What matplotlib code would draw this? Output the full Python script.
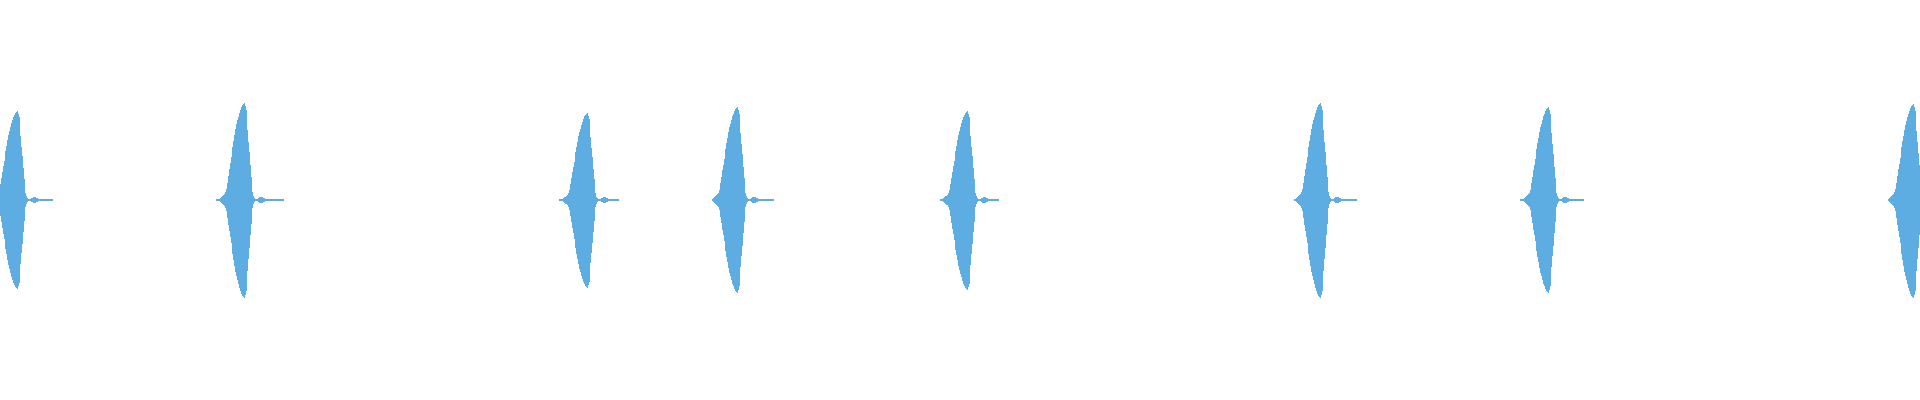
import numpy as np
import matplotlib
matplotlib.use("Agg")
import matplotlib.pyplot as plt

# waveform overview: one bar per pixel column, symmetric around zero
n_columns = 1920
wave_color = "#5dade2"

# burst positions (column of the loudest point) and extent around it
burst_peaks = [17, 244, 587, 737, 967, 1320, 1548, 1913]
burst_start = [-28, -28, -28, -25, -27, -26, -28, -25]
burst_end = [35, 39, 31, 36, 31, 36, 35, 7]
peak_top = [0.445, 0.485, 0.435, 0.465, 0.445, 0.485, 0.465, 0.480]
peak_bottom = [0.445, 0.490, 0.440, 0.465, 0.450, 0.490, 0.465, 0.490]

# relative envelope of one burst, column offsets -28 .. +39 from the peak
env_first = -28
envelope = [
    0.005, 0.008, 0.010, 0.015, 0.020, 0.030, 0.040, 0.050, 0.060, 0.080,
    0.110, 0.180, 0.250, 0.320, 0.380, 0.440, 0.550, 0.610, 0.670, 0.730,
    0.780, 0.820, 0.860, 0.900, 0.930, 0.960, 0.980, 0.990, 1.000, 0.970,
    0.930, 0.720, 0.600, 0.490, 0.360, 0.240, 0.080, 0.040, 0.020, 0.015,
    0.010, 0.015, 0.020, 0.028, 0.032, 0.034, 0.030, 0.025, 0.020, 0.015,
    0.012, 0.010, 0.005, 0.005, 0.005, 0.005, 0.005, 0.005, 0.005, 0.005,
    0.005, 0.005, 0.005, 0.005, 0.005, 0.005, 0.005, 0.005,
]

cols, highs, lows = [], [], []
for pk, s, e, top, bot in zip(burst_peaks, burst_start, burst_end, peak_top, peak_bottom):
    for off in range(s, e + 1):
        c = pk + off
        if c < 0 or c >= n_columns:
            continue
        a = envelope[off - env_first]
        cols.append(c)
        highs.append(max(a * top, 0.0026))
        lows.append(max(a * bot, 0.0026))

cols = np.array(cols)
highs = np.array(highs)
lows = np.array(lows)

fig = plt.figure(figsize=(19.2, 4), dpi=100)
ax = fig.add_axes([0, 0, 1, 1])
ax.bar(cols + 0.5, highs + lows, bottom=-lows, width=1.0,
       color=wave_color, linewidth=0, antialiased=False)
ax.set_xlim(0, n_columns)
ax.set_ylim(-1, 1)
ax.axis("off")

fig.savefig("out.png", dpi=100, facecolor="white")
